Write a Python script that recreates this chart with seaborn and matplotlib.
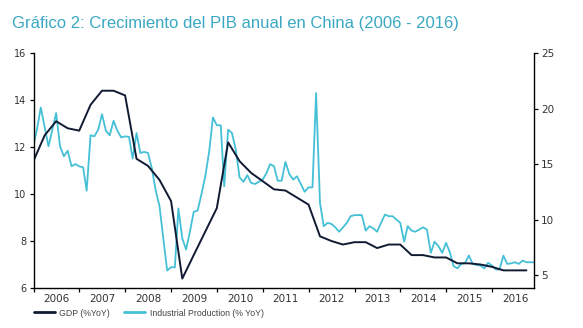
import numpy as np
import pandas as pd
import matplotlib
matplotlib.use("Agg")
import matplotlib.pyplot as plt
import seaborn as sns

# ---------------- data ----------------
title = "Gráfico 2: Crecimiento del PIB anual en China (2006 - 2016)"
gdp_label = "GDP (%YoY)"
ip_label = "Industrial Production (% YoY)"

# quarterly GDP (% YoY), quarter-end dates starting Dec 2005
gdp_start = "2005-12-31"
gdp_values = [11.4, 12.5, 13.1, 12.8, 12.7, 13.8, 14.4, 14.4, 14.2, 11.5, 11.2, 10.6,
              9.7, 6.4, 7.4, 8.4, 9.4, 12.2, 11.4, 10.9, 10.55, 10.2, 10.15, 9.85,
              9.55, 8.2, 8.0, 7.85, 7.95, 7.95, 7.7, 7.85, 7.85, 7.4, 7.4, 7.3,
              7.3, 7.05, 7.05, 7.0, 6.9, 6.75, 6.75, 6.75]

# monthly Industrial Production (% YoY), month-end dates starting Dec 2005
ip_start = "2005-12-31"
ip_values = [16.6, 18.3, 20.1, 18.3, 16.6, 18.1, 19.6, 16.6, 15.7, 16.2, 14.8, 15.0,
             14.8, 14.7, 12.6, 17.6, 17.5, 18.1, 19.5, 18.0, 17.6, 18.9, 18.0, 17.4,
             17.5, 17.45, 15.5, 17.8, 16.0, 16.1, 16.0, 14.6, 12.6, 11.2, 8.2, 5.4,
             5.7, 5.7, 11.0, 8.3, 7.3, 8.9, 10.7, 10.8, 12.3, 13.9, 16.1, 19.2,
             18.5, 18.5, 13.0, 18.1, 17.8, 16.3, 13.8, 13.4, 14.0, 13.3, 13.2, 13.4,
             13.6, 14.2, 15.0, 14.8, 13.5, 13.5, 15.2, 14.1, 13.6, 13.9, 13.2, 12.5,
             12.9, 12.9, 21.4, 11.5, 9.4, 9.7, 9.6, 9.3, 8.9, 9.3, 9.7, 10.3,
             10.4, 10.4, 10.4, 9.0, 9.4, 9.2, 8.9, 9.7, 10.45, 10.3, 10.3, 10.0,
             9.7, 8.0, 9.4, 9.0, 8.9, 9.1, 9.3, 9.1, 7.0, 8.0, 7.6, 7.0,
             7.9, 7.0, 5.8, 5.6, 6.0, 6.1, 6.75, 6.0, 5.9, 5.85, 5.6, 6.1,
             5.85, 5.5, 5.5, 6.75, 6.0, 6.05, 6.15, 6.0, 6.3, 6.15, 6.15, 6.15]

years = list(range(2006, 2017))
left_ticks = [6, 8, 10, 12, 14, 16]
right_ticks = [5, 10, 15, 20, 25]


def decimal_year(dates):
    d = pd.DatetimeIndex(dates)
    start = pd.to_datetime(d.year.astype(str) + "-01-01")
    return d.year + (d - start).days / 365.25


gdp_df = pd.DataFrame({
    "t": decimal_year(pd.date_range(gdp_start, periods=len(gdp_values), freq="QE")),
    "v": gdp_values})
ip_df = pd.DataFrame({
    "t": decimal_year(pd.date_range(ip_start, periods=len(ip_values), freq="ME")),
    "v": ip_values})

# ---------------- style ----------------
sns.set_theme(style="white")
plt.rcParams["font.family"] = ["DejaVu Sans"]

GDP_C = "#101a33"
IP_C = "#45c0d6"
TXT = "#333333"

fig = plt.figure(figsize=(5.83, 3.28), dpi=100)
ax = fig.add_axes([0.0575, 0.122, 0.9585 - 0.0575 - 0.042, 0.838 - 0.122])
ax2 = ax.twinx()

sns.lineplot(data=ip_df, x="t", y="v", ax=ax2, color=IP_C, lw=1.3, label=ip_label, legend=False)
sns.lineplot(data=gdp_df, x="t", y="v", ax=ax, color=GDP_C, lw=1.4, label=gdp_label, legend=False)
ax.set_zorder(ax2.get_zorder() + 1)
ax.patch.set_visible(False)

ax.set_xlim(2006.0, 2016.92)
ax.set_ylim(6, 16)
ax2.set_ylim(3.83, 25)
ax.set_yticks(left_ticks)
ax.set_yticklabels([str(v) for v in left_ticks])
ax2.set_yticks(right_ticks)
ax2.set_yticklabels([str(v) for v in right_ticks])

ax.set_xticks(years)
ax.set_xticklabels([])
ax.set_xticks([y + 0.5 for y in years], minor=True)
ax.set_xticklabels([str(y) for y in years], minor=True)
ax.tick_params(axis="x", which="major", direction="out", length=3, width=0.9, color="black", bottom=True)
ax.tick_params(axis="x", which="minor", length=0, labelsize=7.5, labelcolor=TXT, pad=4)
ax.tick_params(axis="y", direction="out", length=3, width=0.9, color="black", left=True,
               labelsize=7, labelcolor=TXT, pad=2)
ax2.tick_params(axis="y", direction="out", length=3, width=0.9, color="black", right=True,
                labelsize=7.5, labelcolor=TXT, pad=2)

for a in (ax, ax2):
    a.set_xlabel("")
    a.set_ylabel("")
    a.spines["top"].set_visible(False)
    for s in ("left", "right", "bottom"):
        a.spines[s].set_color("black")
        a.spines[s].set_linewidth(1.0)
ax.spines["right"].set_visible(False)
ax2.spines["left"].set_visible(False)
ax2.spines["bottom"].set_visible(False)

fig.text(0.02, 0.915, title, color="#3aa8c2", fontsize=12.0,
         family=["Liberation Sans"], va="baseline", ha="left")

h1, l1 = ax.get_legend_handles_labels()
h2, l2 = ax2.get_legend_handles_labels()
leg = fig.legend(h1 + h2, l1 + l2, loc="lower left", bbox_to_anchor=(0.045, 0.008),
                 ncol=2, frameon=False, handlelength=2.4, handletextpad=0.5,
                 columnspacing=1.6, prop={"family": "Liberation Sans", "size": 6.3})
for t in leg.get_texts():
    t.set_color("#444444")
for ln in leg.get_lines():
    ln.set_linewidth(2.0)

fig.savefig("out.png", dpi=100)
